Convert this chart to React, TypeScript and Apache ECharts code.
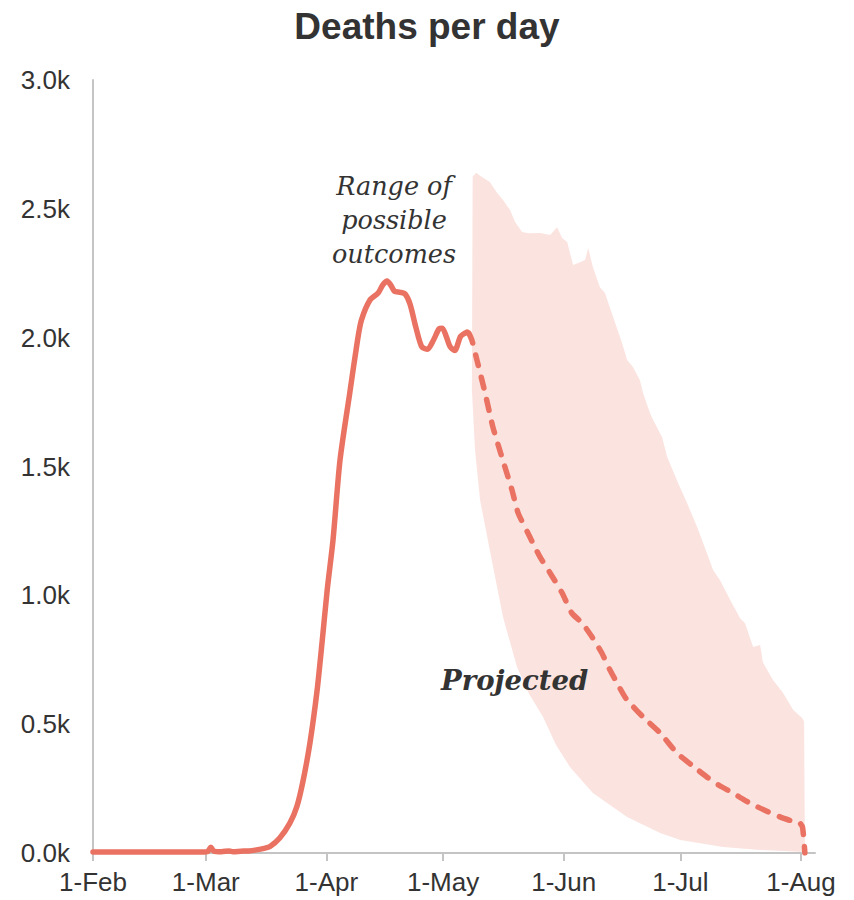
import React, { useEffect, useRef } from "react";
import * as echarts from "echarts";

// Day index 0 = 1-Feb
const monthTickDays = [0, 29, 60, 90, 121, 151, 182];
const monthLabels = ["1-Feb", "1-Mar", "1-Apr", "1-May", "1-Jun", "1-Jul", "1-Aug"];
const yTicks = [0, 500, 1000, 1500, 2000, 2500, 3000];

const actualDays = [0, 10, 20, 28, 29.5, 30.3, 31, 33, 35, 36, 38, 40, 42, 44, 45.5, 48, 50.6, 52.4, 54, 55.8, 57.6, 58.9, 60.2, 61.7, 63.5, 66, 68, 69, 71.2, 73.3, 74.5, 75.6, 76.5, 77.5, 79, 80.2, 81.5, 83, 84.5, 86, 87.5, 89, 89.8, 90.8, 91.8, 93, 94.5, 96.2];
const actualDeaths = [4, 4, 4, 4, 6, 22, 8, 5, 8, 5, 7, 8, 12, 18, 25, 58, 116, 180, 280, 430, 630, 820, 1020, 1215, 1525, 1785, 1990, 2068, 2146, 2173, 2205, 2220, 2205, 2180, 2176, 2170, 2130, 2040, 1965, 1955, 1990, 2035, 2037, 2005, 1965, 1950, 2005, 2022];

const projDays = [96.6, 97.4, 98.7, 100.8, 102.8, 105.1, 107.7, 109.3, 111.8, 114.9, 117.5, 120.6, 123.1, 125.7, 128.3, 130.8, 132.9, 134.7, 137, 141.4, 145.8, 150.1, 154, 157.8, 161, 164.5, 167.5, 170.7, 173.5, 176.6, 179.5, 181.7, 182.4, 183];
const projDeaths = [2018, 1990, 1913, 1785, 1653, 1537, 1409, 1319, 1242, 1149, 1087, 1009, 931, 893, 838, 776, 710, 660, 600, 528, 466, 388, 340, 295, 262, 233, 205, 180, 160, 140, 125, 116, 100, 0];

const bandHighDays = [97.6, 98.5, 99.5, 102, 103.9, 105.4, 107.2, 108.5, 110.3, 112, 115, 117.5, 119.3, 120.6, 121.9, 123.4, 125.2, 126.5, 127.3, 128.5, 130.3, 131.6, 133.7, 136, 137.3, 138.8, 140.6, 141.4, 143.2, 144, 146.3, 147.6, 150.1, 152.7, 155.3, 157.8, 159.4, 161.2, 163.8, 166.3, 167.6, 169.7, 171.5, 172.2, 174.8, 177.4, 180, 182.3, 182.8, 183];
const bandHigh = [2625, 2640, 2628, 2604, 2561, 2534, 2495, 2449, 2410, 2405, 2406, 2398, 2429, 2387, 2371, 2282, 2293, 2301, 2348, 2274, 2196, 2173, 2080, 1979, 1913, 1886, 1835, 1785, 1707, 1680, 1614, 1537, 1447, 1358, 1265, 1164, 1098, 1059, 982, 912, 892, 799, 807, 740, 671, 621, 555, 524, 510, 0];
const bandLowDays = [97.4, 98.2, 99.5, 102, 105.4, 109, 112, 115.7, 119, 122.6, 128.5, 137.3, 145.8, 151, 162, 171.5, 183];
const bandLow = [1800, 1564, 1370, 1176, 916, 722, 620, 528, 420, 334, 233, 140, 78, 50, 23, 12, 4];

const LINE = "#EA7262";
const BAND = "#FBE3DF";
const TEXT = "#333333";
const AXIS = "#c4c4c4";

export default function App() {
  const ref = useRef<HTMLDivElement>(null);
  useEffect(() => {
    if (!ref.current) return;
    const chart = echarts.init(ref.current, null, { renderer: "svg" });
    const toPairs = (xs: number[], ys: number[]) => xs.map((x, i) => [x, ys[i]]);
    chart.setOption({
      animation: false,
      backgroundColor: "#ffffff",
      title: {
        text: "Deaths per day",
        left: "center",
        top: 3,
        textStyle: { fontFamily: "Liberation Sans", fontWeight: "bold", fontSize: 37, color: TEXT },
      },
      grid: { left: 93, right: 39, top: 80, bottom: 47 },
      xAxis: {
        type: "value",
        min: 0,
        max: 185.6,
        splitLine: { show: false },
        axisLine: { show: true, lineStyle: { color: AXIS, width: 2 } },
        axisTick: { show: true, customValues: monthTickDays, length: 8, lineStyle: { color: AXIS, width: 2 } },
        axisLabel: {
          customValues: monthTickDays,
          margin: 16,
          fontFamily: "Liberation Sans",
          fontSize: 26,
          color: TEXT,
          formatter: (v: number) => {
            const i = monthTickDays.indexOf(Math.round(v));
            return i >= 0 ? monthLabels[i] : "";
          },
        },
      },
      yAxis: {
        type: "value",
        min: 0,
        max: 3000,
        interval: 500,
        splitLine: { show: false },
        axisLine: { show: true, lineStyle: { color: AXIS, width: 2 } },
        axisTick: { show: false },
        axisLabel: {
          margin: 23,
          fontFamily: "Liberation Sans",
          fontSize: 26,
          color: TEXT,
          formatter: (v: number) => (yTicks.includes(v) ? (v / 1000).toFixed(1) + "k" : ""),
        },
      },
      series: [
        {
          type: "custom",
          z: 1,
          silent: true,
          clip: true,
          data: [[bandHighDays[0], bandHigh[0]]],
          renderItem: (params: any, api: any) => {
            if (params.dataIndex !== 0) return null;
            const pts: number[][] = [];
            bandHighDays.forEach((d, i) => pts.push(api.coord([d, bandHigh[i]])));
            for (let i = bandLowDays.length - 1; i >= 0; i--) pts.push(api.coord([bandLowDays[i], bandLow[i]]));
            return { type: "polygon", shape: { points: pts }, style: { fill: BAND } };
          },
        },
        {
          type: "line",
          z: 3,
          data: toPairs(actualDays, actualDeaths),
          showSymbol: false,
          smooth: 0.25,
          lineStyle: { color: LINE, width: 5.5, cap: "round", join: "round" },
        },
        {
          type: "line",
          z: 3,
          data: toPairs(projDays, projDeaths),
          showSymbol: false,
          smooth: 0.2,
          lineStyle: { color: LINE, width: 5.5, type: [11, 12], cap: "round", join: "round" },
        },
      ],
      graphic: [
        {
          type: "text",
          x: 394,
          y: 169,
          z: 10,
          style: {
            text: "Range of\npossible\noutcomes",
            fontFamily: "DejaVu Serif",
            fontStyle: "italic",
            fontSize: 25.5,
            lineHeight: 34,
            fill: TEXT,
            align: "center",
            verticalAlign: "top",
          },
        },
        {
          type: "text",
          x: 441,
          y: 680,
          z: 10,
          style: {
            text: "Projected",
            fontFamily: "DejaVu Serif",
            fontStyle: "italic",
            fontWeight: "bold",
            fontSize: 27.5,
            fill: TEXT,
            align: "left",
            verticalAlign: "middle",
          },
        },
      ],
    });
    return () => chart.dispose();
  }, []);
  return <div ref={ref} style={{ position: "fixed", left: 0, top: 0, width: 854, height: 900 }} />;
}
